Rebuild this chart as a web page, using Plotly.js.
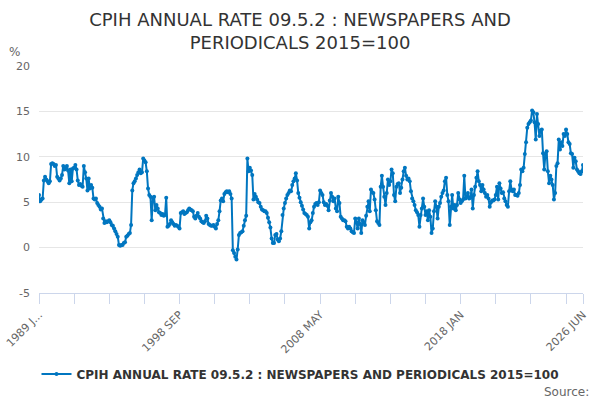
<!DOCTYPE html>
<html>
<head>
<meta charset="utf-8">
<script src="https://cdn.plot.ly/plotly-3.0.1.min.js"></script>
<style>
  html, body { margin: 0; padding: 0; background: #fff; }
  #chart { width: 600px; height: 400px; }
</style>
</head>
<body>
<div id="chart"></div>
<script>
// Monthly series, 1989 JAN .. 2026 JUN
var startYear = 1989;
var monthNames = ["JAN", "FEB", "MAR", "APR", "MAY", "JUN", "JUL", "AUG", "SEP", "OCT", "NOV", "DEC"];

var rates = [
  5.8, 5.1, 5.3, 5.4, 7.4, 7.8, 7.5, 7.3, 7.1, 7.3, 9.2, 9.3,       // 1989
  9.2, 9.0, 9.1, 7.8, 7.6, 7.4, 7.6, 8.0, 9.0, 8.6, 8.7, 9.0,       // 1990
  8.5, 7.1, 8.6, 7.3, 8.7, 8.8, 9.1, 8.6, 7.4, 6.9, 7.0, 6.8,       // 1991
  6.7, 9.0, 8.3, 7.6, 6.3, 7.6, 6.5, 6.9, 6.6, 5.4, 5.3, 5.4,       // 1992
  4.9, 4.7, 4.5, 4.2, 4.3, 3.2, 2.7, 2.9, 2.8, 2.9, 3.0, 2.8,       // 1993
  2.5, 2.4, 2.1, 1.8, 1.5, 1.2, 0.3, 0.2, 0.3, 0.3, 0.5, 0.6,       // 1994
  1.2, 1.3, 1.5, 1.6, 2.5, 6.3, 7.1, 7.3, 7.6, 8.0, 8.3, 8.6,       // 1995
  8.2, 8.3, 9.8, 9.6, 9.4, 8.4, 6.5, 5.8, 5.6, 3.0, 5.5, 5.6,       // 1996
  4.1, 4.7, 4.3, 3.9, 3.8, 3.6, 3.7, 3.5, 3.6, 5.5, 2.3, 2.4,       // 1997
  2.6, 3.0, 2.8, 2.6, 2.4, 2.5, 2.4, 2.3, 2.1, 3.8, 3.9, 4.0,       // 1998
  3.7, 3.8, 3.9, 4.1, 4.3, 4.2, 4.1, 4.0, 3.4, 3.2, 3.5, 3.8,       // 1999
  3.4, 3.2, 2.9, 2.8, 2.7, 2.9, 3.5, 3.2, 2.6, 2.5, 2.4, 2.4,       // 2000
  2.5, 2.3, 2.1, 2.6, 3.0, 4.0, 5.2, 5.4, 5.1, 5.9, 6.1, 6.2,       // 2001
  6.1, 6.2, 5.9, 5.4, -0.3, -0.6, -1.0, -1.3, -0.2, 1.4, 1.6, 1.7,  // 2002
  1.8, 2.4, 3.0, 3.5, 9.8, 8.4, 8.8, 8.5, 8.0, 5.3, 5.9, 5.6,       // 2003
  5.3, 5.0, 4.9, 4.5, 4.2, 4.1, 4.0, 4.0, 3.8, 3.3, 2.8, 2.2,       // 2004
  1.0, 0.5, 0.5, 1.4, 1.5, 0.9, 0.7, 1.0, 1.8, 3.6, 4.3, 4.9,       // 2005
  5.4, 5.8, 6.0, 6.3, 6.2, 6.9, 7.3, 7.6, 8.2, 7.4, 6.0, 5.5,       // 2006
  5.0, 4.6, 4.2, 3.8, 3.7, 3.6, 3.4, 2.1, 2.8, 3.0, 3.8, 4.5,       // 2007
  4.8, 4.9, 4.7, 5.0, 6.3, 6.0, 5.8, 5.0, 4.7, 4.8, 4.6, 4.1,       // 2008
  5.2, 6.0, 5.6, 5.1, 5.4, 4.3, 4.0, 5.6, 4.9, 3.4, 3.2, 3.0,       // 2009
  3.0, 2.9, 2.3, 2.1, 2.3, 2.1, 1.8, 1.7, 1.6, 3.2, 2.8, 2.1,       // 2010
  3.2, 2.6, 1.6, 3.0, 2.8, 2.5, 3.5, 4.5, 5.1, 4.0, 6.4, 6.1,       // 2011
  6.0, 5.3, 4.1, 2.9, 2.7, 2.5, 6.7, 7.9, 6.7, 5.6, 4.7, 6.0,       // 2012
  7.5, 6.9, 7.3, 8.6, 8.2, 5.8, 5.1, 6.7, 7.0, 7.1, 6.0, 6.6,       // 2013
  7.5, 8.4, 8.8, 7.9, 7.5, 7.6, 7.3, 6.2, 5.4, 5.1, 4.7, 4.1,       // 2014
  3.9, 3.6, 2.3, 3.6, 4.3, 5.4, 4.5, 3.6, 4.0, 3.0, 4.1, 3.4,       // 2015
  1.6, 2.1, 4.0, 5.1, 4.5, 3.2, 4.5, 4.9, 5.6, 6.0, 6.3, 7.3,       // 2016
  7.7, 5.8, 5.1, 2.5, 4.5, 5.8, 4.3, 4.7, 4.1, 4.7, 6.0, 5.3,       // 2017
  4.9, 5.1, 5.3, 7.9, 5.4, 5.6, 6.0, 5.4, 5.5, 6.4, 4.3, 5.8,       // 2018
  6.7, 7.7, 8.4, 7.3, 6.9, 6.2, 6.9, 6.4, 6.0, 5.6, 5.8, 5.4,       // 2019
  4.5, 5.0, 5.2, 5.2, 5.3, 5.8, 6.7, 5.3, 7.1, 6.5, 6.0, 6.1,       // 2020
  5.4, 5.1, 4.7, 4.5, 6.2, 7.3, 6.4, 6.2, 6.4, 5.8, 5.8, 5.7,       // 2021
  6.0, 6.9, 8.6, 8.4, 8.8, 10.3, 11.6, 13.2, 13.6, 13.8, 14.0, 15.1, // 2022
  14.9, 13.8, 11.9, 14.7, 13.6, 12.3, 12.9, 13.0, 10.4, 8.6, 10.3, 10.6, // 2023
  8.4, 7.1, 7.9, 7.5, 6.9, 5.3, 6.0, 9.0, 9.3, 11.9, 10.8, 11.6,    // 2024
  11.2, 12.5, 12.3, 13.0, 12.5, 11.6, 11.4, 10.4, 10.3, 8.8, 9.9, 9.5, // 2025
  8.6, 8.4, 8.2, 8.1, 8.4, 9.1                                      // 2026
];

var periods = rates.map(function(v, i) {
  return (startYear + Math.floor(i / 12)) + " " + monthNames[i % 12];
});

// a tick every 29 months, labels only on some of them, plus the last period
var tickEvery = 29;
var labelledTicks = { 0: "1989 J...", 116: "1998 SEP", 232: "2008 MAY", 348: "2018 JAN" };
var tickVals = [];
var tickText = [];
for (var i = 0; i < rates.length; i += tickEvery) {
  tickVals.push(periods[i]);
  tickText.push(labelledTicks[i] || "");
}
tickVals.push(periods[rates.length - 1]);
tickText.push("2026 JUN");

var yTicks = [-5, 0, 5, 10, 15, 20];
var yTickText = ["-5", "0", "5", "10", "15", "20"];

var seriesName = "CPIH ANNUAL RATE 09.5.2 : NEWSPAPERS AND PERIODICALS 2015=100";
var lineColor = "#0076c0";
var font = "DejaVu Sans, sans-serif";

var trace = {
  type: "scatter",
  mode: "lines+markers",
  name: seriesName,
  x: periods,
  y: rates,
  line: { color: lineColor, width: 2 },
  marker: { color: lineColor, size: 4 }
};

var layout = {
  width: 600,
  height: 400,
  paper_bgcolor: "#fff",
  plot_bgcolor: "#fff",
  font: { family: font, color: "#666" },
  margin: { l: 39, r: 17, t: 66, b: 107 },
  title: {
    text: "CPIH ANNUAL RATE 09.5.2 : NEWSPAPERS AND<br>PERIODICALS 2015=100",
    font: { family: font, size: 18, color: "#333" },
    x: 0.5, xref: "container", xanchor: "center",
    y: 0.935, yref: "container", yanchor: "top"
  },
  xaxis: {
    type: "category",
    range: [0, rates.length - 1],
    showgrid: false,
    showline: true,
    linecolor: "#ccd6eb",
    linewidth: 1,
    ticks: "outside",
    ticklen: 10,
    tickcolor: "#ccd6eb",
    tickvals: tickVals,
    ticktext: tickText,
    tickangle: -45,
    tickfont: { family: font, size: 11, color: "#666" },
    zeroline: false
  },
  yaxis: {
    range: [-5, 20],
    tickvals: yTicks,
    ticktext: yTickText,
    gridcolor: "#e6e6e6",
    zeroline: false,
    showline: false,
    ticks: "",
    ticklabelstandoff: 8,
    tickfont: { family: font, size: 11, color: "#666" }
  },
  showlegend: true,
  legend: {
    orientation: "h",
    x: 0.5, xref: "container", xanchor: "center",
    y: 0.065, yref: "container", yanchor: "middle",
    itemwidth: 30,
    font: { family: font, size: 12, color: "#333", weight: "bold" }
  },
  annotations: [
    { text: "%", xref: "paper", yref: "paper", x: -0.045, y: 1.062, xanchor: "center", yanchor: "middle",
      showarrow: false, font: { family: font, size: 12, color: "#666" } },
    { text: "Source:", xref: "paper", yref: "paper", x: 1.015, y: -0.434, xanchor: "right", yanchor: "middle",
      showarrow: false, font: { family: font, size: 12, color: "#666" } }
  ]
};

Plotly.newPlot("chart", [trace], layout, { displayModeBar: false, staticPlot: true });
</script>
</body>
</html>
